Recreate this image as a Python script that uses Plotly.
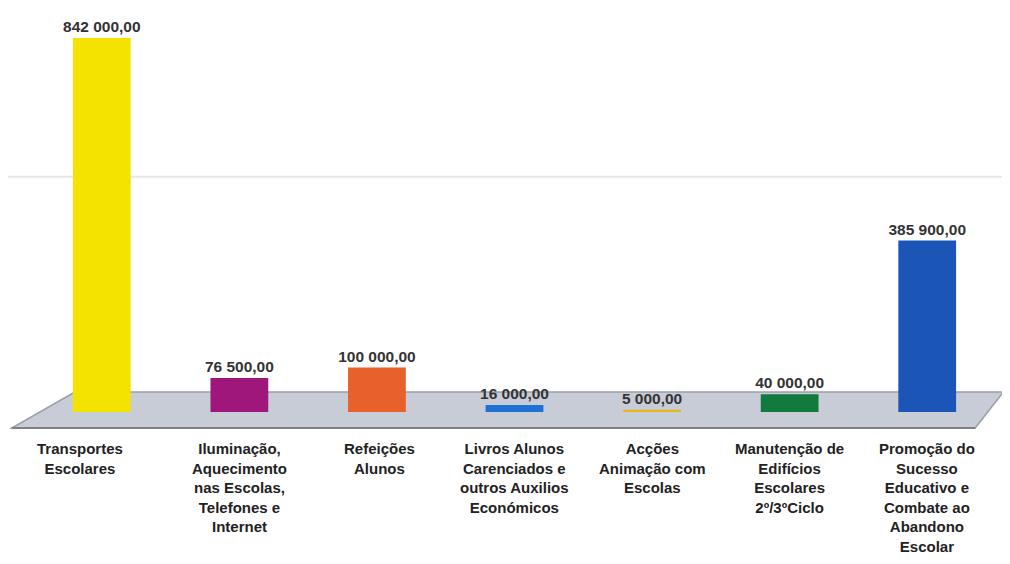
import plotly.graph_objects as go

categories = [
    "Transportes<br>Escolares",
    "Iluminação,<br>Aquecimento<br>nas Escolas,<br>Telefones e<br>Internet",
    "Refeições<br>Alunos",
    "Livros Alunos<br>Carenciados e<br>outros Auxilios<br>Económicos",
    "Acções<br>Animação com<br>Escolas",
    "Manutenção de<br>Edifícios<br>Escolares<br>2º/3ºCiclo",
    "Promoção do<br>Sucesso<br>Educativo e<br>Combate ao<br>Abandono<br>Escolar",
]
values = [842000, 76500, 100000, 16000, 5000, 40000, 385900]
colors = ["#f4e200", "#a0177c", "#e8602a", "#1f72d4", "#e9b51e", "#137a3e", "#1b55b6"]
label_xshift = [-22, 0, 3, 0, 0, 0, 0]


def fmt(v):
    return f"{v:,.2f}".replace(",", " ").replace(".", ",")


labels = [fmt(v) for v in values]

FONT = "Liberation Sans, Arial, sans-serif"

fig = go.Figure(
    go.Bar(
        x=categories,
        y=values,
        marker=dict(color=colors, line=dict(width=0)),
        width=0.42,
        text=labels,
        textposition="outside",
        constraintext="none",
        cliponaxis=False,
        textfont=dict(family=FONT, size=15.5, color="#333333", weight="bold"),
    )
)

shapes = [
    # faint back-wall gridline
    dict(type="line", xref="paper", yref="paper", x0=-0.05, x1=1.03, y0=0.585, y1=0.585,
         line=dict(color="#e6e6e6", width=2), layer="below"),
    # floor plate
    dict(type="path", xref="paper", yref="paper",
         path="M 0.0434 0.0498 L 1.0076 0.0498 L 0.9784 -0.0398 L -0.0221 -0.0398 Z",
         fillcolor="#c8ccd7", line=dict(color="#9a9ea8", width=1.5), layer="below"),
    dict(type="line", xref="paper", yref="paper", x0=-0.0221, x1=0.9784, y0=-0.0398, y1=-0.0398,
         line=dict(color="#7d8089", width=2), layer="below"),
]

annotations = [
    dict(x=c, y=0, xref="x", yref="paper", yanchor="top", xanchor="center",
         yshift=-26, xshift=dx, text=c, showarrow=False, align="center",
         font=dict(family=FONT, size=15, color="#222222", weight="bold"))
    for c, dx in zip(categories, label_xshift)
]

fig.update_layout(
    width=1010,
    height=564,
    margin=dict(l=25, r=22, t=2, b=160),
    paper_bgcolor="white",
    plot_bgcolor="rgba(0,0,0,0)",
    showlegend=False,
    shapes=shapes,
    annotations=annotations,
    xaxis=dict(
        showline=False, showgrid=False, zeroline=False, ticks="",
        showticklabels=False, automargin=False,
    ),
    yaxis=dict(
        range=[0, 905000], showgrid=False, zeroline=False, showticklabels=False,
        showline=False, ticks="", automargin=False,
    ),
)

fig.write_html("out.html")
